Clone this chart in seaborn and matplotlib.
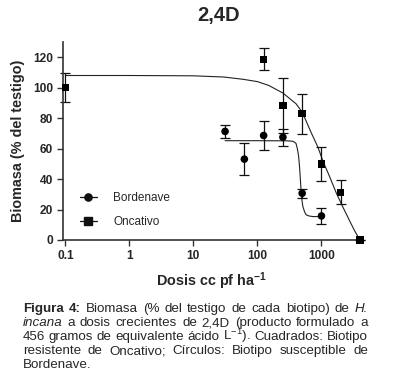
import matplotlib
matplotlib.use("Agg")
import matplotlib.pyplot as plt
from matplotlib.lines import Line2D
import seaborn as sns

onc_dose = [0.1, 125, 250, 500, 1000, 2000, 4000]
onc_bio = [100, 118.7, 88.2, 82.9, 50, 31.4, 0]
onc_err = [9.5, 7.3, 18, 13, 11, 8, 0]

bor_dose = [31.25, 62.5, 125, 250, 500, 1000]
bor_bio = [71.3, 53.1, 68.6, 67.5, 30.7, 15.8]
bor_err = [4.4, 10.4, 9.8, 5.5, 3.0, 5.0]

# fitted curves, points
onc_curve_x = [0.1, 1, 10, 30, 60, 100, 150, 250, 400, 500, 700, 880, 1050, 1330, 1700, 2140, 2725, 3300, 4000]
onc_curve_y = [108, 108, 107.8, 107, 105.5, 104, 101.5, 96.5, 89.5, 84, 70, 61, 52, 42, 31, 22, 13, 6, 0]
bor_curve_x = [31.25, 100, 300, 360, 400, 420, 440, 455, 465, 475, 483, 500, 513, 545, 578, 650, 733, 1000]
bor_curve_y = [65.2, 65.2, 65.1, 64.8, 63.5, 60, 55, 48, 42, 36, 31, 25, 22, 18.5, 16.5, 15.7, 15.4, 15.3]

y_ticks = [0, 20, 40, 60, 80, 100, 120]
x_ticks = [0.1, 1, 10, 100, 1000]
x_ticklabels = ["0.1", "1", "10", "100", "1000"]

sns.set_style("ticks")
plt.rcParams["font.family"] = ["Liberation Sans", "DejaVu Sans"]
plt.rcParams["mathtext.default"] = "regular"

W, H = 393, 389
fig = plt.figure(figsize=(W / 100, H / 100), dpi=100)
ax = fig.add_axes([63 / W, 1 - 240 / H, (360 - 63) / W, (240 - 42) / H])

ink = "#111111"
sns.lineplot(x=onc_curve_x, y=onc_curve_y, ax=ax, color="#222222", lw=0.8, sort=False)
sns.lineplot(x=bor_curve_x, y=bor_curve_y, ax=ax, color="#222222", lw=0.8, sort=False)

ax.errorbar(onc_dose, onc_bio, yerr=onc_err, fmt="none", ecolor=ink, elinewidth=0.9,
            capsize=3.5, capthick=0.9, clip_on=False)
ax.errorbar(bor_dose, bor_bio, yerr=bor_err, fmt="none", ecolor=ink, elinewidth=0.9,
            capsize=3.5, capthick=0.9, clip_on=False)
sns.scatterplot(x=onc_dose, y=onc_bio, ax=ax, marker="s", s=28, color="black",
                edgecolor="none", clip_on=False, zorder=5)
sns.scatterplot(x=bor_dose, y=bor_bio, ax=ax, marker="o", s=30, color="black",
                edgecolor="none", clip_on=False, zorder=5)

ax.set_xscale("log")
ax.set_xlim(0.092, 4000)
ax.set_ylim(0, 130)
ax.set_xticks(x_ticks)
ax.set_xticklabels(x_ticklabels)
ax.xaxis.set_minor_locator(matplotlib.ticker.NullLocator())
ax.set_yticks(y_ticks)
ax.tick_params(axis="both", labelsize=8.6, length=4, width=1, color="#333333", pad=3)
for lab in ax.get_xticklabels() + ax.get_yticklabels():
    lab.set_fontweight("bold")
sns.despine(ax=ax)
for sp in ["left", "bottom"]:
    ax.spines[sp].set_linewidth(1.2)
    ax.spines[sp].set_color("#333333")

ax.set_xlabel("Dosis cc pf ha$^{-1}$", fontsize=10.4, fontweight="bold")
ax.set_ylabel("Biomasa (% del testigo)", fontsize=10.4, fontweight="bold")
ax.xaxis.set_label_coords(0.5, -0.155)
ax.yaxis.set_label_coords(-0.128, 0.5)

handles = [Line2D([], [], color=ink, lw=0.9, marker="o", markersize=5.2),
           Line2D([], [], color=ink, lw=0.9, marker="s", markersize=5.2)]
ax.legend(handles, ["Bordenave", "Oncativo"], loc="center left", bbox_to_anchor=(0.058, 0.15),
          frameon=False, fontsize=8.5, handlelength=1.4, handletextpad=1.4,
          labelspacing=1.0, borderpad=0, borderaxespad=0)

fig.text(219 / W, 1 - 21 / H, "2,4D", ha="center", va="baseline", fontsize=14.5, fontweight="bold")

# caption, justified line by line
cap_lines = [
    [("Figura", "bold"), ("4:", "bold"), ("Biomasa", ""), ("(%", ""), ("del", ""), ("testigo", ""),
     ("de", ""), ("cada", ""), ("biotipo)", ""), ("de", ""), ("H.", "italic")],
    [("incana", "italic"), ("a", ""), ("dosis", ""), ("crecientes", ""), ("de", ""), ("2,4D", ""),
     ("(producto", ""), ("formulado", ""), ("a", "")],
    [("456", ""), ("gramos", ""), ("de", ""), ("equivalente", ""), ("ácido", ""), ("L$^{-1}$).", ""),
     ("Cuadrados:", ""), ("Biotipo", "")],
    [("resistente", ""), ("de", ""), ("Oncativo;", ""), ("Círculos:", ""), ("Biotipo", ""),
     ("susceptible", ""), ("de", "")],
]
baselines = [312, 326, 340, 354]
x0, x1 = 22.7, 368
cap_fs = 9.6
renderer = fig.canvas.get_renderer()
for words, yb in zip(cap_lines, baselines):
    texts = []
    for w, style in words:
        t = fig.text(0, 1 - yb / H, w, fontsize=cap_fs, va="baseline", ha="left",
                     fontweight="bold" if style == "bold" else "normal",
                     fontstyle="italic" if style == "italic" else "normal")
        texts.append(t)
    widths = [t.get_window_extent(renderer).width for t in texts]
    gap = (x1 - x0 - sum(widths)) / (len(texts) - 1)
    x = x0
    for t, wd in zip(texts, widths):
        t.set_x(x / W)
        x += wd + gap
fig.text(x0 / W, 1 - 367.5 / H, "Bordenave.", fontsize=cap_fs, va="baseline", ha="left")

fig.savefig("out.png", dpi=100)
